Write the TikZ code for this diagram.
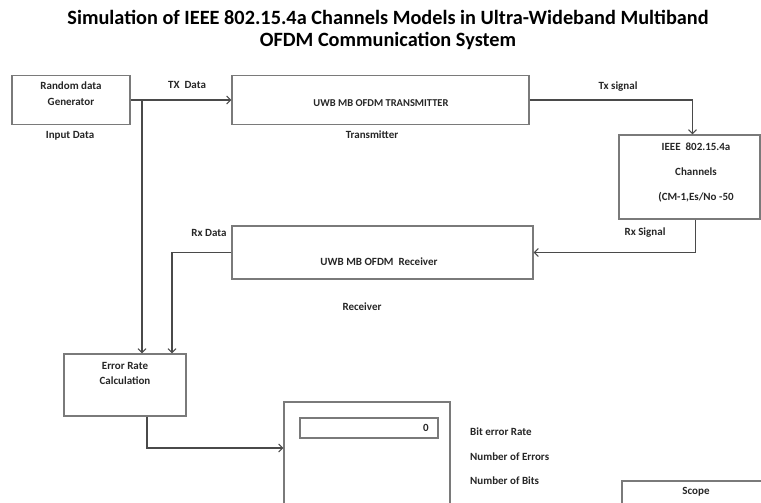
\documentclass[tikz,border=0pt]{standalone}
\usepackage{fontspec}
\setmainfont{Carlito}
\usepackage{tikz}
\usetikzlibrary{arrows.meta}
\usetikzlibrary{calc}

\definecolor{linegray}{HTML}{4a4a4a}
\definecolor{boxgray}{HTML}{7a7a7a}
\definecolor{txtgray}{HTML}{262626}

\tikzset{
    blk/.style={draw=boxgray,line width=1.1pt,inner sep=0pt},
    lbl/.style={text=txtgray,font=\bfseries\fontsize{11}{13}\selectfont,inner sep=0pt},
    wire/.style={draw=linegray,line width=1.1pt},
    arr/.style={wire,-{Straight Barb[length=4pt,width=8pt]}},
}

\begin{document}
\begin{tikzpicture}[x=1pt,y=-1pt]
\useasboundingbox (0,0) rectangle (761,503);
\clip (0,0) rectangle (761,503);
% title
\node[text=black,font=\bfseries\fontsize{20.3}{22}\selectfont,align=center] (title) at (388,30)
    {Simulation of IEEE 802.15.4a Channels Models in Ultra-Wideband Multiband\\OFDM Communication System};
% blocks
\node[blk,minimum width=118,minimum height=49] (gen) at (71,100) {};
\node[blk,minimum width=297,minimum height=49] (tx) at (380.5,100) {};
\node[blk,minimum width=141,minimum height=84] (chan) at (689.5,177) {};
\node[blk,minimum width=301,minimum height=53] (rx) at (382.5,252.5) {};
\node[blk,minimum width=122,minimum height=62] (err) at (125,385) {};
\node[blk,minimum width=166,minimum height=120] (disp) at (367,462) {};
\node[blk,minimum width=138,minimum height=20] (field) at (369,428) {};
\node[blk,minimum width=160,minimum height=60] (scope) at (702,511) {};
% block texts
\node[lbl] at (71,86) {Random data};
\node[lbl] at (71,102) {Generator};
\node[lbl,font=\bfseries\fontsize{10.5}{12}\selectfont] at (381,103) {UWB MB OFDM TRANSMITTER};
\node[lbl] at (696,147) {IEEE\ \ 802.15.4a};
\node[lbl] at (696,172) {Channels};
\node[lbl] at (696,197) {(CM-1,Es/No -50};
\node[lbl] at (379,262) {UWB MB OFDM\ \ Receiver};
\node[lbl] at (125,366) {Error Rate};
\node[lbl] at (125,381) {Calculation};
\node[lbl,anchor=east] at (429,428) {0};
\node[lbl] at (696,492) {Scope};
% labels
\node[lbl] at (70,136) {Input Data};
\node[lbl] at (187,85) {TX\ \ Data};
\node[lbl] at (372,135) {Transmitter};
\node[lbl] at (618,87) {Tx signal};
\node[lbl] at (645,233) {Rx Signal};
\node[lbl] at (209,233) {Rx Data};
\node[lbl] at (362,307) {Receiver};
\node[lbl,anchor=west] at (470,432) {Bit error Rate};
\node[lbl,anchor=west] at (470,457) {Number of Errors};
\node[lbl,anchor=west] at (470,481) {Number of Bits};
% connectors
\coordinate (split) at (142,100);
\coordinate (back) at (172,252.5);
\draw[arr] (gen.east) -- (tx.west);
\draw[arr] (split) -- (split |- err.north);
\draw[arr] (tx.east) -| ([xshift=3pt]chan.north);
\draw[arr] ([xshift=6pt]chan.south) |- (rx.east);
\draw[arr] (rx.west) -- (back) -- (back |- err.north);
\draw[arr] ([xshift=22pt]err.south) |- (disp.west |- 0,448);
\end{tikzpicture}
\end{document}
